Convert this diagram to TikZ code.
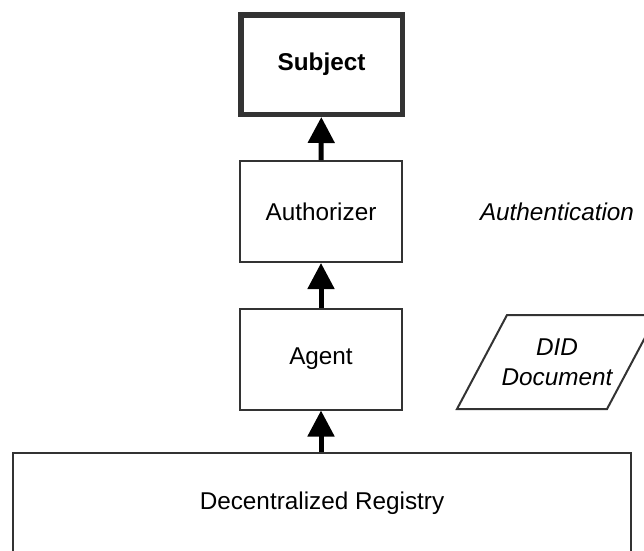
\documentclass[tikz,border=0pt]{standalone}
\usepackage{fontspec}
\setmainfont{Liberation Sans}
\usepackage{tikz}
\usetikzlibrary{arrows.meta,positioning}

\definecolor{edge}{HTML}{333333}

\begin{document}
\begin{tikzpicture}[x=1pt,y=1pt,
  box/.style={draw=edge,line width=2pt,minimum width=162pt,minimum height=101pt,
    inner sep=0pt,font=\fontsize{24.3}{30}\selectfont},
  lab/.style={font=\fontsize{24.3}{30}\selectfont\itshape,align=center},
  up/.style={line width=5pt,-{Triangle[length=26pt,width=26pt]}}]
  \useasboundingbox (0,0) rectangle (644,-550);
  % the chain from registry up to subject
  \node[box,line width=5.5pt,minimum width=161.5pt,minimum height=99.5pt,
    font=\fontsize{24.3}{30}\selectfont\bfseries] (subject) at (321.5,-64.5) {Subject};
  \node[box] (authorizer) at (321,-211.5) {Authorizer};
  \node[box] (agent) at (321,-359) {Agent};
  \node[box,minimum width=618pt,minimum height=100pt] (registry) at (322,-503)
    {Decentralized Registry};
  \draw[up] (authorizer) -- (subject);
  \draw[up] (agent) -- (authorizer);
  \draw[up] (registry.north -| agent) -- (agent);
  % side labels
  \node[lab] (authn) at (557,-211.5) {Authentication};
  \node[lab] (diddoc) at (557,-362) {DID\\Document};
  \draw[edge,line width=2pt,line join=miter]
    (457,-409) -- (507,-315) -- (657,-315) -- (607,-409) -- cycle;
\end{tikzpicture}
\end{document}
